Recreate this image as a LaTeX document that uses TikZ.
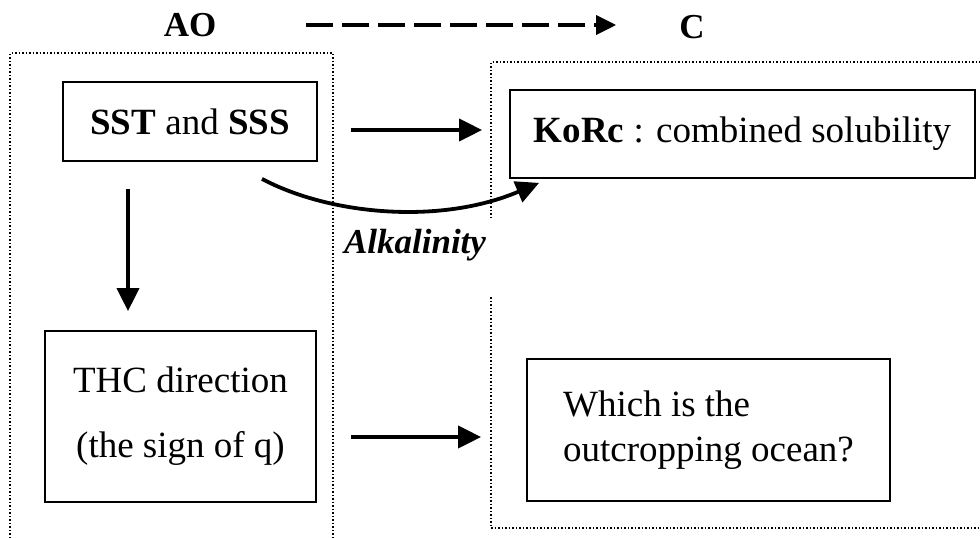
\documentclass[tikz,border=0pt]{standalone}
\usepackage{fontspec}
\setmainfont{Liberation Serif}
\usetikzlibrary{arrows.meta}
\begin{document}
\begin{tikzpicture}[x=1pt,y=-1pt,
  box/.style={draw, line width=1.8pt, inner sep=0pt, font=\fontsize{37}{44}\selectfont},
  lbl/.style={inner sep=0pt, font=\fontsize{35}{40}\selectfont\bfseries},
  arr/.style={line width=3.8pt, -{Triangle[length=23pt,width=22pt]}},
  dasharr/.style={line width=3.5pt, dash pattern=on 27pt off 9pt, -{Triangle[length=20pt,width=19pt]}},
  frame/.style={line width=1.2pt, dash pattern=on 1.5pt off 2pt, black}]
\useasboundingbox (0,0) rectangle (980,538);
% frames
\draw[frame] (10,538) -- (10,53) -- (333,53) -- (333,538);
\draw[frame] (491,218) -- (491,62) -- (980,62);
\draw[frame] (491,297) -- (491,528) -- (980,528);
% labels
\node[lbl] (ao) at (190,25) {AO};
\node[lbl] (c) at (692,27) {C};
% boxes
\node[box, minimum width=254pt, minimum height=79pt] (sst) at (190,121.5) {\textbf{SST} and \textbf{SSS}};
\node[box, minimum width=465pt, minimum height=88pt] (korc) at (742.5,134) {\textbf{KoRc} : combined solubility};
\node[box, minimum width=271pt, minimum height=171pt, align=center, font=\fontsize{37}{65}\selectfont] (thc) at (180.5,416.5) {THC direction\\(the sign of q)};
\node[box, minimum width=363pt, minimum height=142pt, align=left, font=\fontsize{37}{45}\selectfont] (which) at (708.5,430) {Which is the\\outcropping ocean?};
\node[inner sep=0pt, font=\fontsize{35}{42}\selectfont\bfseries\itshape] (alk) at (415,245) {Alkalinity};
% connectors
\draw[dasharr] ([xshift=90pt]ao.east) -- ([xshift=-63pt]ao.east -| c.west);
\draw[arr] ([xshift=33pt,yshift=-8.5pt]sst.east) -- ([xshift=-27pt,yshift=4pt]korc.west);
\draw[arr] ([xshift=72pt,yshift=-17pt]sst.south) .. controls (330,215) and (440,225) .. ([xshift=30pt,yshift=-4pt]korc.south west);
\draw[arr] ([xshift=-62pt,yshift=-27pt]sst.south) -- ([xshift=-52.5pt,yshift=19pt]thc.north);
\draw[arr] ([xshift=34pt,yshift=-20.5pt]thc.east) -- ([xshift=-45pt,yshift=-20.5pt]thc.east -| which.west);
\end{tikzpicture}
\end{document}
